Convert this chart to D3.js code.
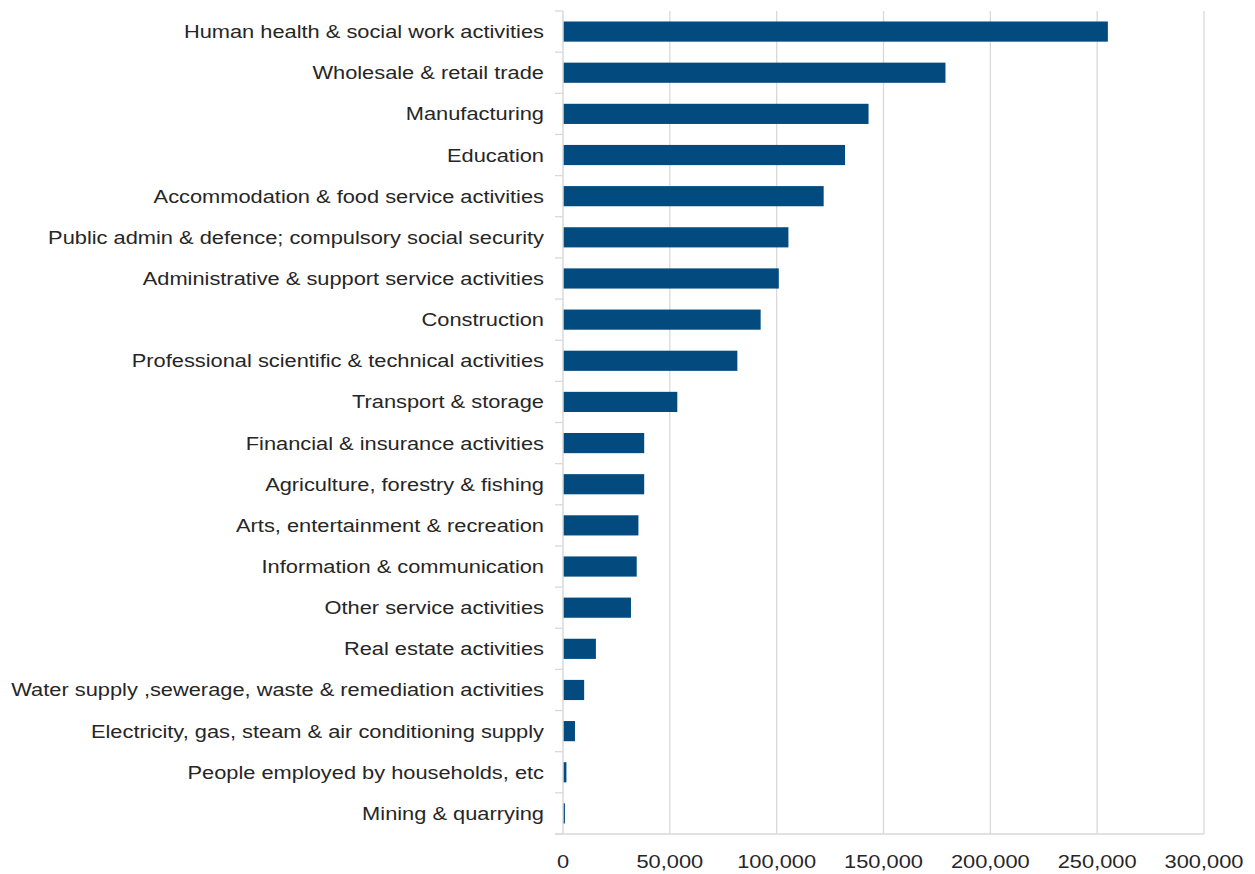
<!DOCTYPE html>
<html>
<head>
<meta charset="utf-8">
<script src="https://cdn.jsdelivr.net/npm/d3@7"></script>
<style>
  body { margin: 0; background: #fff; }
  text { font-family: "Liberation Sans", Arial, sans-serif; }
</style>
</head>
<body>
<div id="chart"></div>
<script>
// industry categories, top to bottom
var categories = [
  "Human health & social work activities",
  "Wholesale & retail trade",
  "Manufacturing",
  "Education",
  "Accommodation & food service activities",
  "Public admin & defence; compulsory social security",
  "Administrative & support service activities",
  "Construction",
  "Professional scientific & technical activities",
  "Transport & storage",
  "Financial & insurance activities",
  "Agriculture, forestry & fishing",
  "Arts, entertainment & recreation",
  "Information & communication",
  "Other service activities",
  "Real estate activities",
  "Water supply ,sewerage, waste & remediation activities",
  "Electricity, gas, steam & air conditioning supply",
  "People employed by households, etc",
  "Mining & quarrying"
];
var values = [255000, 179000, 143000, 132000, 122000, 105500, 101000, 92500, 81600, 53500,
              38000, 38000, 35300, 34500, 31800, 15400, 9900, 5600, 1600, 900];
var xTicks = [0, 50000, 100000, 150000, 200000, 250000, 300000];

var W = 1255, H = 874;
var margin = {top: 11, right: 51, bottom: 40, left: 563};
var stretch = 1.18; // text in the original is drawn a bit wide

var svg = d3.select("#chart").append("svg")
  .attr("width", W)
  .attr("height", H);

var x = d3.scaleLinear().domain([0, 300000]).range([margin.left, W - margin.right]);
var y = d3.scaleBand().domain(categories).range([margin.top, H - margin.bottom]).paddingInner(0.51).paddingOuter(0.255);

var plotTop = margin.top, plotBottom = H - margin.bottom;

// vertical gridlines
svg.append("g").selectAll("line")
  .data(xTicks.slice(1))
  .enter().append("line")
  .attr("x1", function(d) { return x(d); })
  .attr("x2", function(d) { return x(d); })
  .attr("y1", plotTop)
  .attr("y2", plotBottom)
  .attr("stroke", "#d9d9d9")
  .attr("stroke-width", 1.3);

// bars
svg.append("g").selectAll("rect")
  .data(values)
  .enter().append("rect")
  .attr("x", x(0))
  .attr("y", function(d, i) { return y(categories[i]); })
  .attr("width", function(d) { return x(d) - x(0); })
  .attr("height", y.bandwidth())
  .attr("fill", "#034a7e");

// category axis line + ticks between bands
var step = y.step();
var bounds = [];
for (var i = 0; i <= categories.length; i++) {
  bounds.push(plotTop + i * step);
}
svg.append("g").selectAll("line")
  .data(bounds)
  .enter().append("line")
  .attr("x1", x(0) - 8)
  .attr("x2", x(0))
  .attr("y1", function(d) { return d; })
  .attr("y2", function(d) { return d; })
  .attr("stroke", "#d9d9d9")
  .attr("stroke-width", 1.3);

svg.append("line")
  .attr("x1", x(0)).attr("x2", x(0))
  .attr("y1", plotTop).attr("y2", plotBottom)
  .attr("stroke", "#d9d9d9").attr("stroke-width", 1.5);

svg.append("line")
  .attr("x1", x(0) - 8).attr("x2", x(300000))
  .attr("y1", plotBottom).attr("y2", plotBottom)
  .attr("stroke", "#d9d9d9").attr("stroke-width", 1.5);

// category labels
svg.append("g").selectAll("text")
  .data(categories)
  .enter().append("text")
  .attr("transform", function(d) {
    return "translate(" + (x(0) - 19) + "," + (y(d) + y.bandwidth() / 2) + ") scale(" + stretch + ",1)";
  })
  .attr("dy", "0.35em")
  .attr("text-anchor", "end")
  .attr("font-size", "18.5px")
  .attr("fill", "#262626")
  .text(function(d) { return d; });

// value axis labels
var fmt = d3.format(",");
svg.append("g").selectAll("text")
  .data(xTicks)
  .enter().append("text")
  .attr("transform", function(d) {
    return "translate(" + x(d) + "," + (plotBottom + 28) + ") scale(" + stretch + ",1)";
  })
  .attr("dy", "0.35em")
  .attr("text-anchor", "middle")
  .attr("font-size", "18.5px")
  .attr("fill", "#262626")
  .text(function(d) { return fmt(d); });
</script>
</body>
</html>
